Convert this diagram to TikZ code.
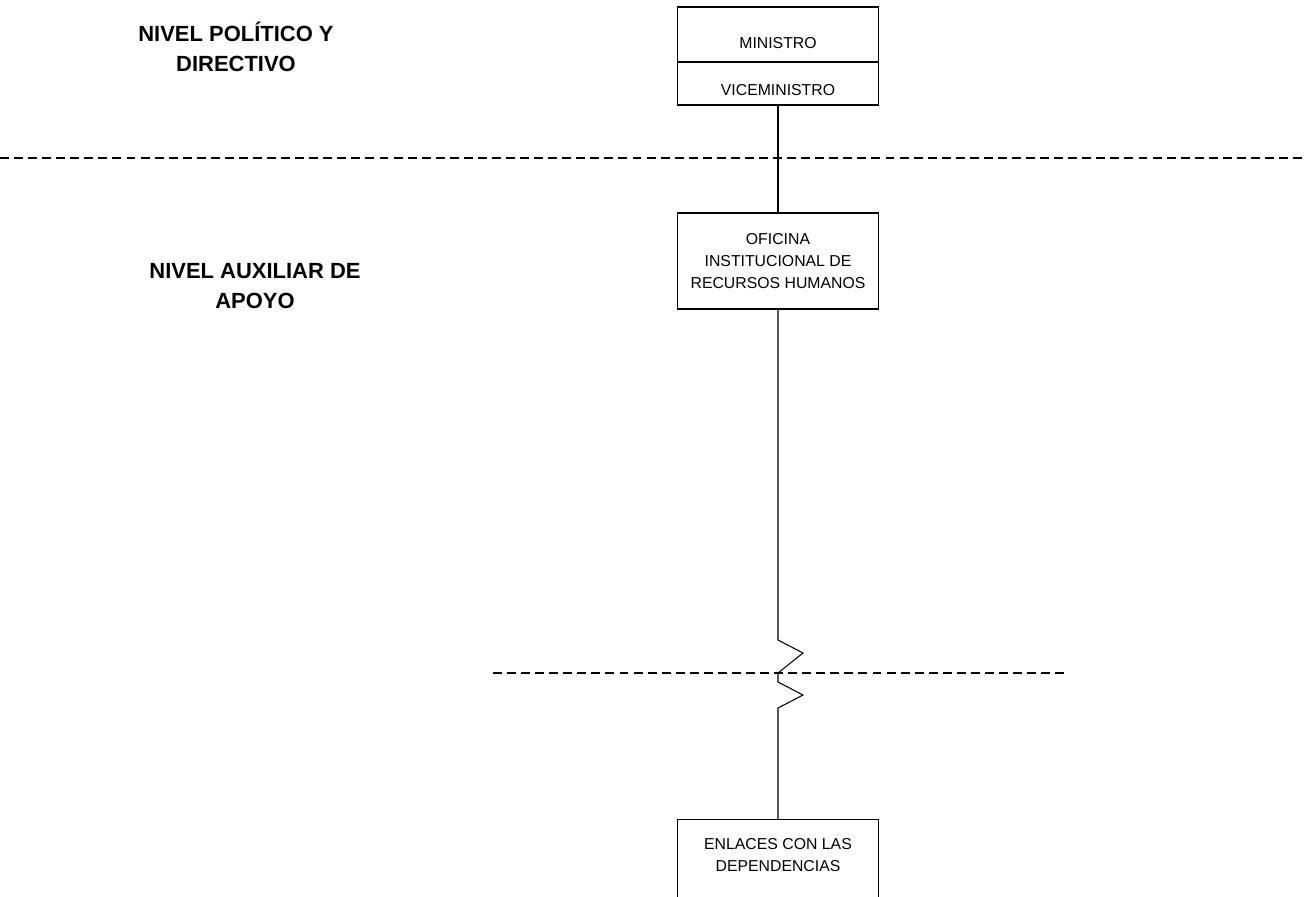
\documentclass[tikz,border=0pt]{standalone}
\usepackage{fontspec}
\setmainfont{Liberation Sans}
\usetikzlibrary{positioning}
\tikzset{
  caja/.style={draw=black, line width=0.7pt, fill=white, minimum width=201*0.02cm, align=center, font=\fontsize{9}{12.5}\selectfont, inner sep=0pt},
  nivel/.style={align=center, font=\fontsize{12.5}{17}\selectfont\bfseries, inner sep=0pt},
  raya/.style={line width=0.7pt, dash pattern=on 5.1pt off 2.9pt},
  enlace/.style={line width=0.6pt}
}
\begin{document}
\begin{tikzpicture}[x=0.02cm,y=0.02cm]
\clip (0,0) rectangle (1304,-896);
% niveles
\node [nivel] (politico) at (236,-47) {NIVEL POLÍTICO Y\\DIRECTIVO};
\node [nivel] (auxiliar) at (255,-286) {NIVEL AUXILIAR DE\\APOYO};
\draw [raya] (0,-158) -- (1304,-158);
\draw [raya] (493,-673) -- (1065,-673);
% cajas
\node [caja, minimum height=55*0.02cm, text height=0.566cm, text depth=0pt] (ministro) at (778,-34.5) {MINISTRO};
\node [caja, minimum height=43*0.02cm, text height=0.466cm, text depth=0pt, below=-0.7pt of ministro] (vice) {VICEMINISTRO};
\node [caja, minimum height=96*0.02cm] (oficina) at (778,-261) {OFICINA\\INSTITUCIONAL DE\\RECURSOS HUMANOS};
\node [caja, anchor=north] (enlaces) at (778,-819)
  {\parbox[c][2.4cm][t]{4.02cm}{\centering\vspace*{0.37cm}ENLACES CON LAS\\DEPENDENCIAS}};
% conectores
\draw [enlace] (vice.south) -- (oficina.north);
\coordinate (corte) at (778,-673);
\draw [enlace] (oficina.south) -- (778,-640) -- (803,-653) -- (corte)
  -- (778,-682) -- (803,-695) -- (778,-708) -- (enlaces.north);
\end{tikzpicture}
\end{document}
